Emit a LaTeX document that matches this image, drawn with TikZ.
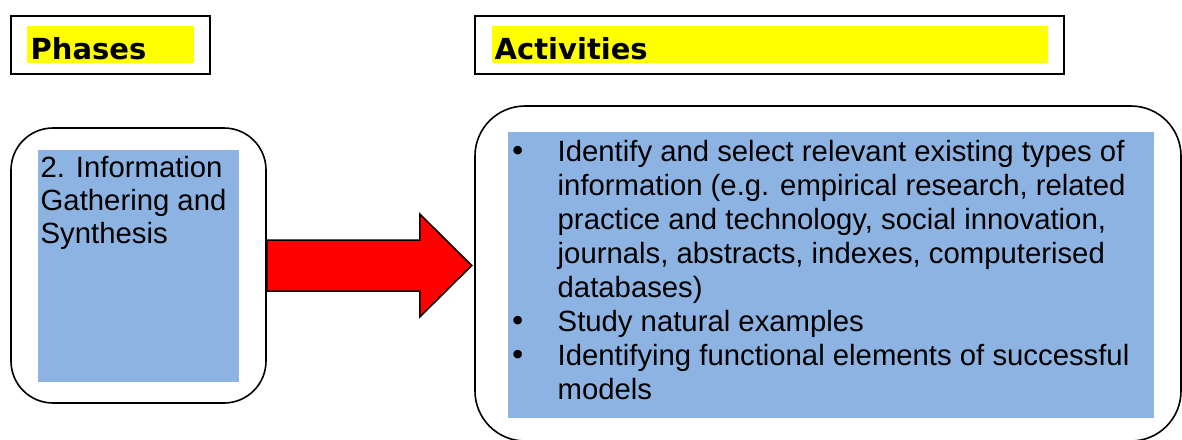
\documentclass[tikz,border=0pt]{standalone}
\usepackage{fontspec}
\setmainfont{Liberation Sans}
\newfontfamily\headfont{DejaVu Sans}
\newfontfamily\bulfont{DejaVu Sans}
\usetikzlibrary{calc}
\definecolor{boxblue}{RGB}{141,179,226}
\definecolor{hiyellow}{RGB}{255,255,0}
\definecolor{arrowred}{RGB}{255,0,0}
\newcommand\bigbul{{\bulfont •}}
\begin{document}
\begin{tikzpicture}[x=1pt,y=-1pt,
  headbox/.style={draw=black, line width=2pt, inner sep=0pt},
  roundbox/.style={draw=black, line width=1.6pt, inner sep=0pt},
  headtext/.style={inner sep=0pt, anchor=base west, font=\headfont\bfseries\fontsize{29}{34}\selectfont},
  bodytext/.style={inner sep=0pt, anchor=base west, align=left},
  blockarrow/.style={draw=black, line width=1.5pt, fill=arrowred, line join=miter}
]
\useasboundingbox (0,0) rectangle (1182,439);

% heading boxes
\node[headbox, minimum width=199pt, minimum height=58.3pt] (phhead) at (110.5,45) {};
\fill[hiyellow] (27,26) rectangle (194,63);
\node[headtext] (phtext) at (30.5,59) {Phases};

\node[headbox, minimum width=589pt, minimum height=58.3pt] (acthead) at (769.5,45) {};
\fill[hiyellow] (492,26) rectangle (1048,63);
\node[headtext] (acttext) at (494.5,59) {Activities};

% phase box
\node[roundbox, rounded corners=42pt, minimum width=255pt, minimum height=275pt] (phase) at (138.5,265.5) {};
\fill[boxblue] (38,150) rectangle (239,382);
\node[bodytext] (phaselabel) at (40.5,177) {\fontsize{29.3}{33}\selectfont
  \begin{tabular}[t]{@{}l@{}}
  2. Information\\
  Gathering and\\
  Synthesis
  \end{tabular}};

% activities box
\node[roundbox, rounded corners=50pt, minimum width=706pt, minimum height=335pt] (act) at (828,273.5) {};
\fill[boxblue] (508,132) rectangle (1154,418);
\node[bodytext] (actlabel) at (509,161.7) {\fontsize{29.3}{34}\selectfont
  \begin{tabular}[t]{@{}p{48.5pt}@{}l@{}}
  \bigbul & Identify and select relevant existing types of\\
    & information (e.g. empirical research, related\\
    & practice and technology, social innovation,\\
    & journals, abstracts, indexes, computerised\\
    & databases)\\
  \bigbul & Study natural examples\\
  \bigbul & Identifying functional elements of successful\\
    & models
  \end{tabular}};

% block arrow
\draw[blockarrow] ($(phase.east)+(0,-25.5)$) -- ($(phase.east)+(153,-25.5)$)
  -- ($(phase.east)+(153,-51.5)$) -- ($(phase.east)+(205,0)$)
  -- ($(phase.east)+(153,51.5)$) -- ($(phase.east)+(153,25.5)$)
  -- ($(phase.east)+(0,25.5)$) -- cycle;
\end{tikzpicture}
\end{document}
